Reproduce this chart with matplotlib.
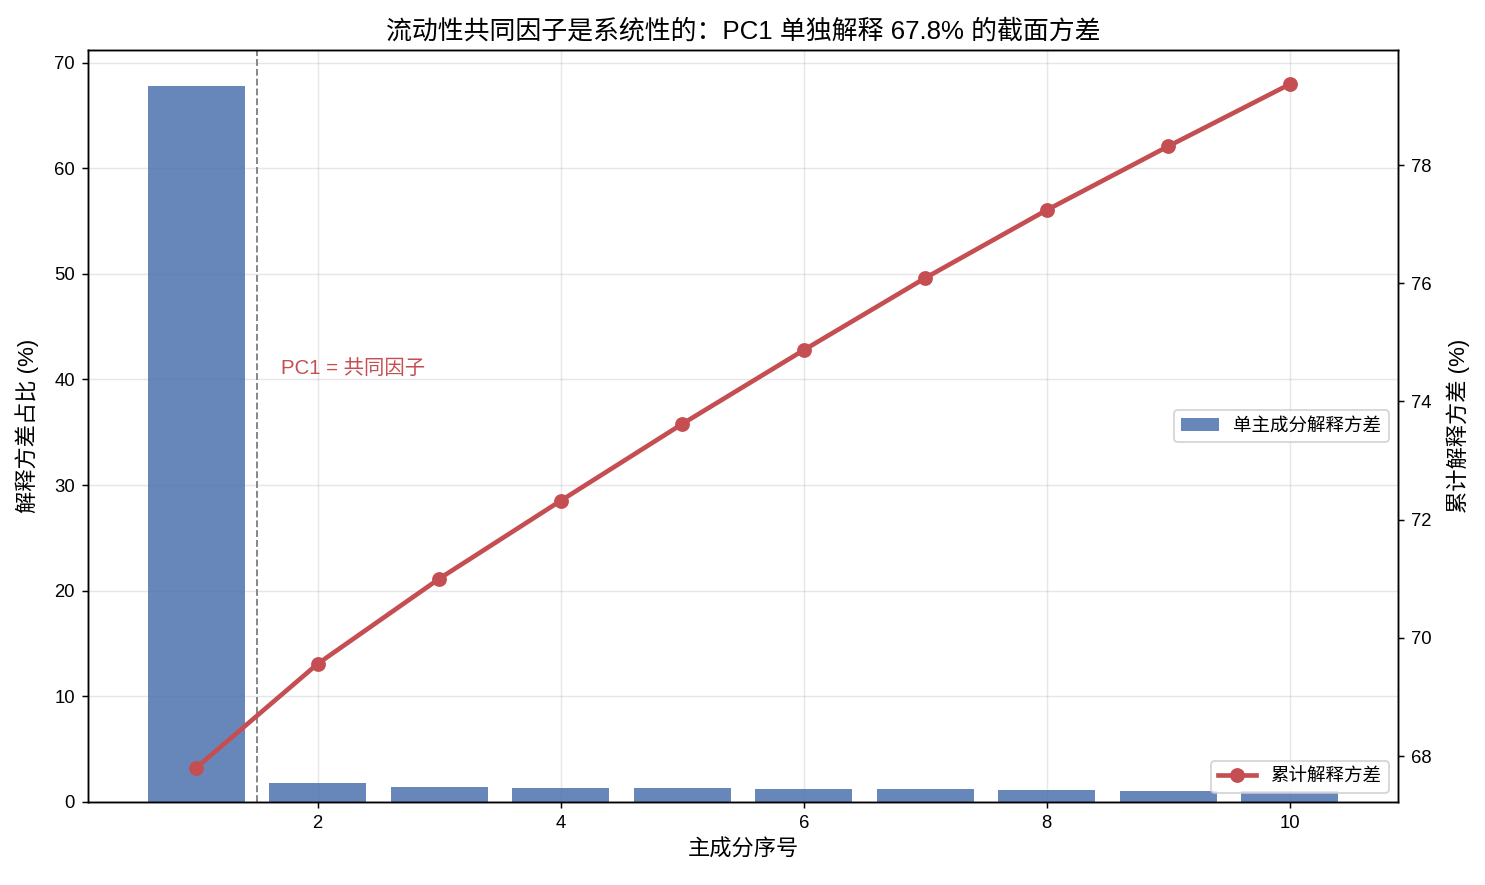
import matplotlib
matplotlib.use('Agg')
import matplotlib.pyplot as plt

plt.rcParams['font.family'] = ['Liberation Sans', 'Noto Sans CJK SC', 'DejaVu Sans']
plt.rcParams['axes.unicode_minus'] = False

# 数据
componentes = [1, 2, 3, 4, 5, 6, 7, 8, 9, 10]
var_explicada = [67.8, 1.76, 1.44, 1.32, 1.30, 1.25, 1.22, 1.15, 1.08, 1.05]
var_acumulada = [67.8, 69.56, 71.0, 72.32, 73.62, 74.87, 76.09, 77.24, 78.32, 79.37]

azul = '#4C72B0'
vermelho = '#C44E52'

dpi = 133.33
fig, ax1 = plt.subplots(figsize=(1485 / dpi, 885 / dpi), dpi=dpi)
fig.subplots_adjust(left=88 / 1485, right=1398 / 1485, top=1 - 50 / 885, bottom=1 - 802 / 885)

ax1.bar(componentes, var_explicada, color=azul, alpha=0.85, width=0.8, label='单主成分解释方差')
ax1.axvline(1.5, color='gray', linestyle='--', linewidth=1)
ax1.text(1.7, 41, 'PC1 = 共同因子', color=vermelho, fontsize=11, va='center')
ax1.set_xlabel('主成分序号', fontsize=12)
ax1.set_ylabel('解释方差占比 (%)', fontsize=12, labelpad=8)
ax1.tick_params(labelsize=10)
ax1.grid(alpha=0.3)
ax1.set_axisbelow(True)

ax2 = ax1.twinx()
ax2.plot(componentes, var_acumulada, marker='o', color=vermelho, linewidth=2.5,
         markersize=7, label='累计解释方差')
ax2.set_ylabel('累计解释方差 (%)', fontsize=12, labelpad=8)
ax2.tick_params(labelsize=10)

ax1.legend(loc='center right', fontsize=10)
ax2.legend(loc='lower right', fontsize=10)

ax1.set_title('流动性共同因子是系统性的：PC1 单独解释 67.8% 的截面方差', fontsize=14)

plt.savefig('out.png', dpi=dpi)
